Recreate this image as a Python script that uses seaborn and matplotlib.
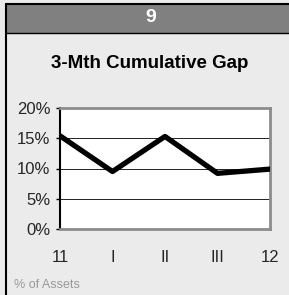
import pandas as pd
import seaborn as sns
import matplotlib.pyplot as plt
from matplotlib.patches import Rectangle

# values
periods = ['11', 'I', 'II', 'III', '12']
gap_pct = [15.4, 9.5, 15.3, 9.2, 9.9]
y_ticks = [0, 5, 10, 15, 20]
y_labels = ['0%', '5%', '10%', '15%', '20%']

df = pd.DataFrame({'period': periods, 'gap': gap_pct})
df['pos'] = range(len(periods))

sns.set_style('white')
plt.rcParams['font.family'] = ['Liberation Sans', 'DejaVu Sans']

bg = '#ebebeb'
fig = plt.figure(figsize=(2.89, 2.95), dpi=100, facecolor=bg)
W, H = 289, 295

# header band and outer frame
fig.patches.append(Rectangle((6 / W, 1 - 33 / H), 1 - 6 / W, 29 / H, transform=fig.transFigure,
                             facecolor='#808080', edgecolor='none', zorder=0))
fig.add_artist(plt.Line2D([6 / W, 6 / W], [0, 1 - 4 / H], color='black', lw=1.5, transform=fig.transFigure))
fig.add_artist(plt.Line2D([6 / W, 1], [1 - 4 / H, 1 - 4 / H], color='black', lw=1.5, transform=fig.transFigure))
fig.add_artist(plt.Line2D([6 / W, 1], [1 - 33 / H, 1 - 33 / H], color='black', lw=1, transform=fig.transFigure))
fig.text(151 / W, 1 - 18 / H, '9', color='white', fontsize=14, fontweight='bold', ha='center', va='center')
fig.text(150 / W, 1 - 63 / H, '3-Mth Cumulative Gap', color='black', fontsize=13.5, fontweight='bold',
         ha='center', va='center')
fig.text(14 / W, 1 - 285 / H, '% of Assets', color='#9a9a9a', fontsize=9, ha='left', va='center')

ax = fig.add_axes([60 / W, 1 - 229 / H, 210 / W, 121 / H])
ax.set_facecolor('white')
for y in [5, 10, 15]:
    ax.axhline(y, color='#222222', lw=0.7, zorder=1)
sns.lineplot(data=df, x='pos', y='gap', color='black', lw=3.8, ax=ax, zorder=3)

ax.set_xlim(0, 4)
ax.set_ylim(0, 20)
ax.set_xticks(df['pos'])
ax.set_xticklabels(periods)
ax.set_yticks(y_ticks)
ax.set_yticklabels(y_labels)
ax.set_xlabel('')
ax.set_ylabel('')
ax.tick_params(axis='x', length=0, pad=15, labelsize=12)
ax.tick_params(axis='y', length=3, width=1, color='black', direction='out', pad=4, labelsize=12, left=True)
for side in ['top', 'right', 'bottom']:
    ax.spines[side].set_color('#8c8c8c')
    ax.spines[side].set_linewidth(2)
ax.spines['left'].set_color('black')
ax.spines['left'].set_linewidth(1.5)

fig.savefig('out.png', dpi=100, facecolor=bg)
